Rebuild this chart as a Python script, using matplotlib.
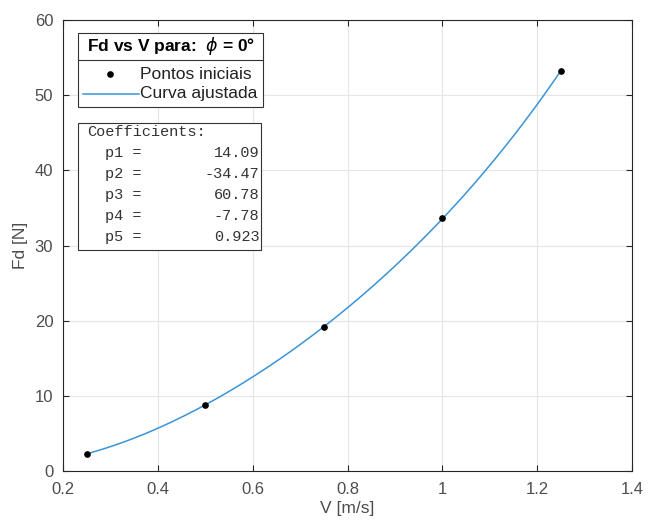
import numpy as np
import matplotlib.pyplot as plt
from matplotlib.patches import Rectangle
from matplotlib.lines import Line2D

# Measured points
velocity = [0.25, 0.50, 0.75, 1.00, 1.25]
drag_force = [2.2, 8.8, 19.1, 33.6, 53.2]

# Fitted polynomial coefficients (p1..p5), as shown on the chart
coef_names = ['p1', 'p2', 'p3', 'p4', 'p5']
coef_values = [14.09, -34.47, 60.78, -7.78, 0.923]
coef_labels = ['14.09', '-34.47', '60.78', '-7.78', '0.923']

plt.rcParams['font.family'] = ['Liberation Sans', 'DejaVu Sans']
gray = '#262626'
tick_gray = '#4d4d4d'
blue = '#3a94d6'

fig = plt.figure(figsize=(6.51, 5.24), dpi=100)
ax = fig.add_axes([0.0968, 0.1011, 0.8740, 0.8607])

# fitted curve evaluated from the displayed coefficients
v_fit = np.linspace(velocity[0], velocity[-1], 200)
ax.plot(v_fit, np.polyval(coef_values, v_fit), color=blue, lw=1.1)
ax.plot(velocity, drag_force, 'o', color='black', ms=3.8)

ax.set_xlim(0.2, 1.4)
ax.set_ylim(0, 60)
ax.set_xticks([0.2, 0.4, 0.6, 0.8, 1.0, 1.2, 1.4])
ax.set_xticklabels(['0.2', '0.4', '0.6', '0.8', '1', '1.2', '1.4'])
ax.set_yticks(range(0, 61, 10))
ax.tick_params(direction='in', length=4, colors=gray, labelsize=12, labelcolor=tick_gray,
               top=True, right=True)
ax.tick_params(axis='x', pad=8)
ax.tick_params(axis='y', pad=7)
for s in ax.spines.values():
    s.set_color(gray)
    s.set_linewidth(0.8)
ax.grid(True, color='#e6e6e6', lw=0.8)
ax.set_axisbelow(True)
ax.set_xlabel('V [m/s]', fontsize=12.5, color=tick_gray, labelpad=3)
ax.set_ylabel('Fd [N]', fontsize=12.5, color=tick_gray, labelpad=5)

# legend box (drawn manually, MATLAB style with title row)
tr = ax.transAxes
ax.add_patch(Rectangle((0.0264, 0.807), 0.325, 0.164, transform=tr, facecolor='white',
                       edgecolor='#333333', lw=0.8, zorder=5))
ax.add_line(Line2D([0.0264, 0.3514], [0.911, 0.911], transform=tr, color='#333333', lw=0.8, zorder=6))
ax.text(0.189, 0.942, r'Fd vs V para:  $\phi$ = 0°', transform=tr, ha='center', va='center',
        fontsize=12.5, fontweight='bold', color='black', zorder=6)
ax.add_line(Line2D([0.083], [0.880], transform=tr, marker='o', color='black', ms=3.8, ls='none', zorder=6))
ax.text(0.135, 0.880, 'Pontos iniciais', transform=tr, va='center', fontsize=12.5, color='#222222', zorder=6)
ax.add_line(Line2D([0.035, 0.133], [0.836, 0.836], transform=tr, color=blue, lw=1.1, zorder=6))
ax.text(0.135, 0.836, 'Curva ajustada', transform=tr, va='center', fontsize=12.5, color='#222222', zorder=6)

# coefficients box
ax.add_patch(Rectangle((0.0264, 0.49), 0.322, 0.282, transform=tr, facecolor='white',
                       edgecolor='#333333', lw=0.8, zorder=5))
ax.text(0.042, 0.752, 'Coefficients:', transform=tr, va='center', fontsize=11,
        family='Liberation Mono', color='#333333', zorder=6)
for i, (name, lab) in enumerate(zip(coef_names, coef_labels)):
    y = 0.705 - i * 0.0463
    ax.text(0.074, y, name + ' =', transform=tr, va='center', fontsize=11,
            family='Liberation Mono', color='#333333', zorder=6)
    ax.text(0.345, y, lab, transform=tr, va='center', ha='right', fontsize=11,
            family='Liberation Mono', color='#333333', zorder=6)

fig.savefig('out.png', dpi=100)
